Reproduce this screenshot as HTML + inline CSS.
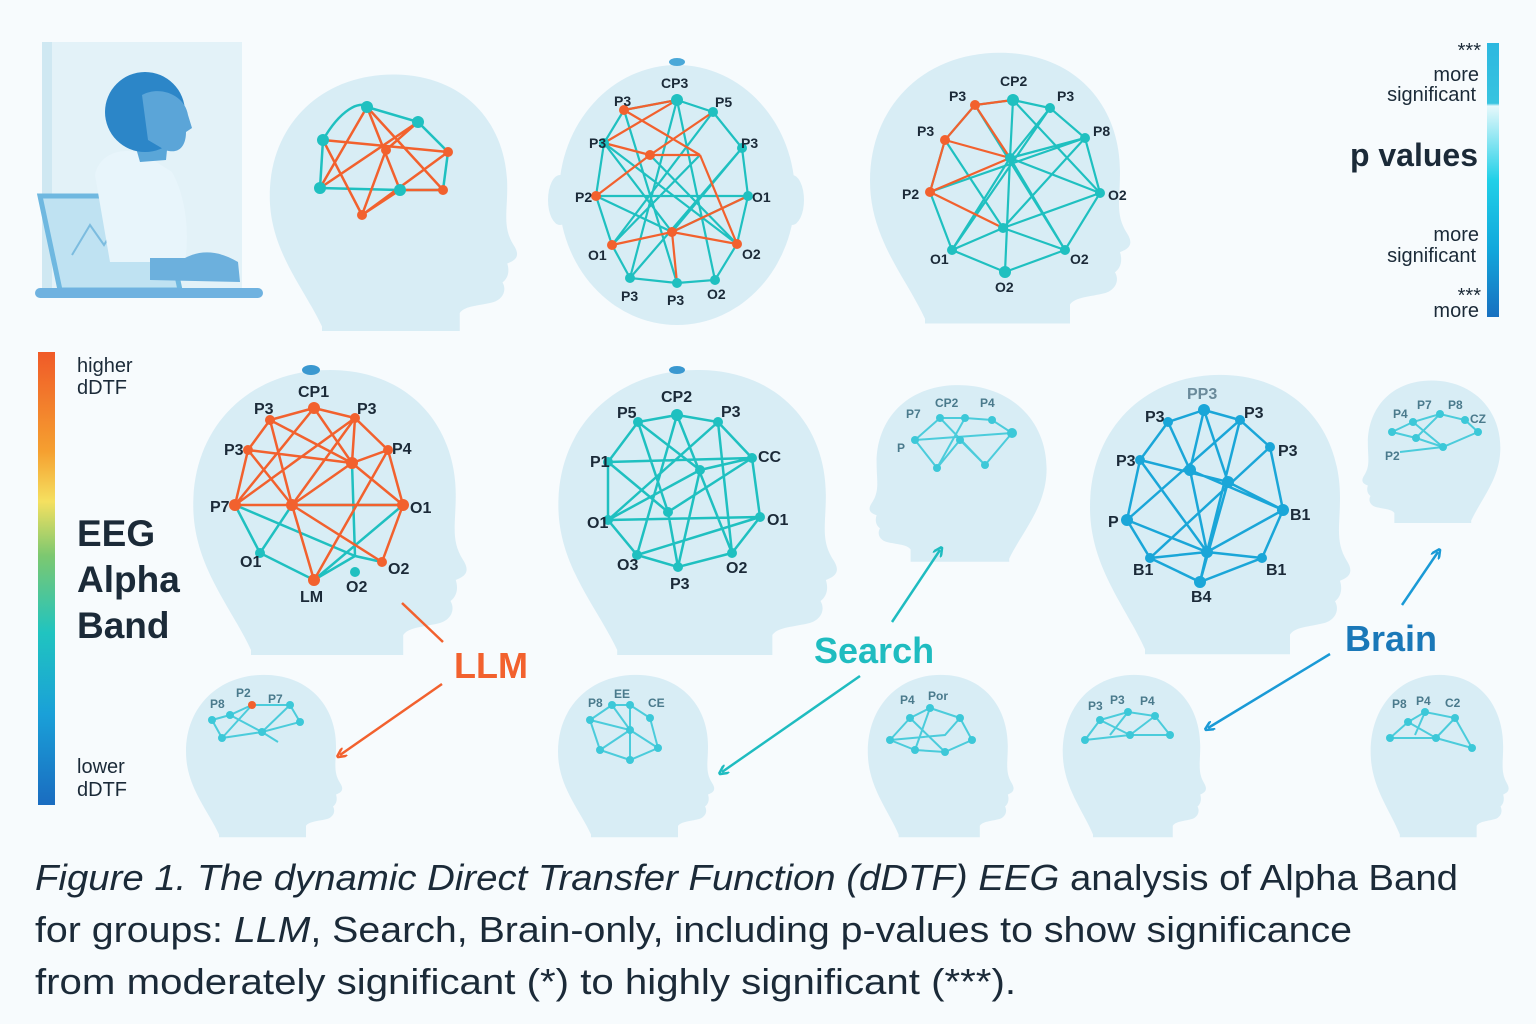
<!DOCTYPE html>
<html><head><meta charset="utf-8">
<style>
html,body{margin:0;padding:0;background:#f7fbfd;}
svg{display:block}
text{font-family:"Liberation Sans",sans-serif;}
</style></head>
<body>
<svg width="1536" height="1024" viewBox="0 0 1536 1024" xmlns="http://www.w3.org/2000/svg">
<defs>
<path id="head" d="M60,285 C40,240 5,200 5,140 C5,60 60,5 135,5 C210,5 255,60 255,130 C255,160 250,175 262,195 C270,208 262,212 255,215 C258,225 255,232 250,236 C255,245 250,255 240,258 C225,262 210,262 205,270 L205,290 L60,290 Z"/>
<linearGradient id="cb" x1="0" y1="0" x2="0" y2="1">
<stop offset="0" stop-color="#f05a28"/><stop offset="0.22" stop-color="#f5a030"/><stop offset="0.33" stop-color="#f5e060"/><stop offset="0.45" stop-color="#7cc870"/><stop offset="0.62" stop-color="#20c4c0"/><stop offset="0.8" stop-color="#1aa0d8"/><stop offset="1" stop-color="#1a6cc0"/>
</linearGradient>
<linearGradient id="pv" x1="0" y1="0" x2="0" y2="1">
<stop offset="0" stop-color="#2cb8e0"/><stop offset="0.22" stop-color="#38c4e0"/><stop offset="0.23" stop-color="#e6f8fb"/><stop offset="0.5" stop-color="#20d0e8"/><stop offset="0.75" stop-color="#12a8dc"/><stop offset="1" stop-color="#1870c0"/>
</linearGradient>
<marker id="ao" markerWidth="10" markerHeight="10" refX="6" refY="5" orient="auto" markerUnits="userSpaceOnUse"><path d="M0,0 L10,5 L0,10" fill="none" stroke="#f2612e" stroke-width="2.5"/></marker>
<marker id="at" markerWidth="10" markerHeight="10" refX="6" refY="5" orient="auto" markerUnits="userSpaceOnUse"><path d="M0,0 L10,5 L0,10" fill="none" stroke="#1fbcc0" stroke-width="2.5"/></marker>
<marker id="ab" markerWidth="10" markerHeight="10" refX="6" refY="5" orient="auto" markerUnits="userSpaceOnUse"><path d="M0,0 L10,5 L0,10" fill="none" stroke="#1a9ad6" stroke-width="2.5"/></marker>
</defs>

<!-- top-left person scene -->
<rect x="42" y="42" width="200" height="255" fill="#e3f2f8"/>
<rect x="42" y="42" width="10" height="255" fill="#cfe8f2"/>
<path d="M40,196 L160,196 L180,290 L60,290 Z" fill="#bfe2f2" stroke="#6fb8e0" stroke-width="5"/>
<polyline points="72,255 90,225 104,245 112,232 128,252" fill="none" stroke="#7cbcdf" stroke-width="2"/>
<rect x="35" y="288" width="228" height="10" rx="5" fill="#6fb2e0"/>
<path d="M95,175 C100,150 130,145 150,158 L172,172 C185,195 190,230 185,262 L110,262 Z" fill="#e8f5fb"/>
<path d="M150,258 L185,258 C200,250 218,250 238,262 L240,282 L150,280 Z" fill="#6cb0dd"/>
<path d="M128,120 L170,120 L166,160 L140,162 Z" fill="#5aa6d8"/>
<ellipse cx="145" cy="112" rx="40" ry="40" fill="#2c86c8"/>
<path d="M142,95 C160,85 185,95 188,115 L192,128 L186,132 C186,145 180,155 165,150 L148,140 Z" fill="#5ba5d8"/>

<!-- heads -->
<g fill="#d3eaf4" opacity="0.85">
<use href="#head" transform="translate(265,70) scale(0.95,0.9)"/>
<ellipse cx="677" cy="195" rx="118" ry="130"/>
<ellipse cx="560" cy="200" rx="12" ry="25"/><ellipse cx="792" cy="200" rx="12" ry="25"/>
<use href="#head" transform="translate(865,48) scale(1.0,0.95)"/>
<use href="#head" transform="translate(188,365) scale(1.05,1.0)"/>
<use href="#head" transform="translate(553,365) scale(1.07,1.0)"/>
<use href="#head" transform="translate(1050,382) scale(-0.68,0.62)"/>
<use href="#head" transform="translate(1085,370) scale(1.0,0.98)"/>
<use href="#head" transform="translate(1503,378) scale(-0.53,0.5)"/>
<use href="#head" transform="translate(183,672) scale(0.6,0.57)"/>
<use href="#head" transform="translate(555,672) scale(0.6,0.57)"/>
<use href="#head" transform="translate(865,672) scale(0.56,0.57)"/>
<use href="#head" transform="translate(1060,672) scale(0.55,0.57)"/>
<use href="#head" transform="translate(1368,672) scale(0.53,0.57)"/>
</g>
<ellipse cx="677" cy="62" rx="8" ry="4" fill="#4aa8d8"/>
<ellipse cx="311" cy="370" rx="9" ry="5" fill="#3a98d0"/>
<ellipse cx="677" cy="370" rx="8" ry="4" fill="#3a98d0"/>

<!-- network 1 top -->
<g stroke-width="2.5" fill="none">
<path d="M323,140 C340,110 360,100 367,107 L418,122 L448,152 L443,190 L400,190 L320,188 Z" stroke="#1fc0c0"/>
<g stroke="#f2612e">
<path d="M367,107 L320,188 M367,107 L400,190 M367,107 L443,190 M323,140 L448,152 M320,188 L418,122 M362,215 L386,150 L418,122 M362,215 L448,152 M323,140 L362,215 M400,190 L362,215 M443,190 L400,190"/>
</g></g>
<g fill="#1fc0c0"><circle cx="323" cy="140" r="6"/><circle cx="367" cy="107" r="6"/><circle cx="418" cy="122" r="6"/><circle cx="320" cy="188" r="6"/><circle cx="400" cy="190" r="6"/></g>
<g fill="#f2612e"><circle cx="448" cy="152" r="5"/><circle cx="443" cy="190" r="5"/><circle cx="362" cy="215" r="5"/><circle cx="386" cy="150" r="5"/></g>

<!-- network 2 top -->
<g stroke-width="2.2" fill="none" stroke="#1fc0c0">
<path d="M677,100 L713,112 L742,148 L748,196 L737,244 L715,280 L677,283 L630,278 L612,245 L596,196 L604,143 L624,110 Z"/>
<path d="M677,100 L630,278 M677,100 L715,280 M713,112 L612,245 M604,143 L737,244 M596,196 L748,196 M624,110 L677,283 M742,148 L630,278 M672,232 L604,143 M672,232 L742,148 M672,232 L596,196 M672,232 L748,196 M650,155 L737,244 M700,155 L612,245"/>
</g>
<g stroke-width="2.2" fill="none" stroke="#f2612e">
<path d="M624,110 L677,100 L604,143 M624,110 L700,155 M604,143 L650,155 L713,112 M650,155 L700,155 M596,196 L650,155 M612,245 L672,232 L737,244 M748,196 L672,232 L677,283 M700,155 L737,244"/>
</g>
<g fill="#1fc0c0"><circle cx="677" cy="100" r="6"/><circle cx="713" cy="112" r="5"/><circle cx="742" cy="148" r="5"/><circle cx="748" cy="196" r="5"/><circle cx="630" cy="278" r="5"/><circle cx="677" cy="283" r="5"/><circle cx="715" cy="280" r="5"/><circle cx="604" cy="143" r="5"/></g>
<g fill="#f2612e"><circle cx="624" cy="110" r="5"/><circle cx="596" cy="196" r="5"/><circle cx="612" cy="245" r="5"/><circle cx="737" cy="244" r="5"/><circle cx="672" cy="232" r="5"/><circle cx="650" cy="155" r="5"/></g>
<g font-size="14" font-weight="bold" fill="#1b2a38">
<text x="661" y="88">CP3</text><text x="614" y="106">P3</text><text x="715" y="107">P5</text><text x="589" y="148">P3</text><text x="741" y="148">P3</text><text x="575" y="202">P2</text><text x="752" y="202">O1</text><text x="588" y="260">O1</text><text x="742" y="259">O2</text><text x="621" y="301">P3</text><text x="667" y="305">P3</text><text x="707" y="299">O2</text>
</g>

<!-- network 3 top -->
<g stroke-width="2.2" fill="none" stroke="#1fc0c0">
<path d="M1013,100 L1050,108 L1085,138 L1100,193 L1065,250 L1005,272 L952,250 L930,192 L945,140 L975,105 Z"/>
<path d="M1010,158 L1013,100 M1010,158 L1050,108 M1010,158 L1085,138 M1010,158 L1100,193 M1010,158 L1065,250 M1010,158 L1005,272 M1010,158 L952,250 M1003,228 L1085,138 M1003,228 L945,140 M1003,228 L1100,193 M1003,228 L952,250 M1003,228 L1065,250 M1013,100 L1100,193 M1050,108 L952,250 M975,105 L1065,250 M1085,138 L930,192"/>
</g>
<g stroke-width="2.2" fill="none" stroke="#f2612e">
<path d="M975,105 L1013,100 M975,105 L945,140 L930,192 M945,140 L1010,158 L930,192 M975,105 L1010,158 M930,192 L1003,228"/>
</g>
<g fill="#1fc0c0"><circle cx="1013" cy="100" r="6"/><circle cx="1050" cy="108" r="5"/><circle cx="1085" cy="138" r="5"/><circle cx="1100" cy="193" r="5"/><circle cx="1065" cy="250" r="5"/><circle cx="1005" cy="272" r="6"/><circle cx="952" cy="250" r="5"/><circle cx="1010" cy="158" r="5"/><circle cx="1003" cy="228" r="5"/></g>
<g fill="#f2612e"><circle cx="975" cy="105" r="5"/><circle cx="945" cy="140" r="5"/><circle cx="930" cy="192" r="5"/></g>
<g font-size="14" font-weight="bold" fill="#1b2a38">
<text x="1000" y="86">CP2</text><text x="949" y="101">P3</text><text x="1057" y="101">P3</text><text x="1093" y="136">P8</text><text x="917" y="136">P3</text><text x="902" y="199">P2</text><text x="1108" y="200">O2</text><text x="930" y="264">O1</text><text x="1070" y="264">O2</text><text x="995" y="292">O2</text>
</g>

<!-- LLM middle head -->
<g stroke-width="2.5" fill="none" stroke="#1fc0c0">
<path d="M235,505 L260,553 L314,580 L355,556 L382,562 M235,505 L355,556 M292,505 L403,505 M292,505 L260,553 M403,505 L314,580 M352,463 L355,556"/>
</g>
<g stroke-width="2.5" fill="none" stroke="#f2612e">
<path d="M314,408 L355,418 L388,450 L403,505 L382,562 M314,408 L270,420 L248,450 L235,505 M270,420 L352,463 L388,450 M248,450 L352,463 M248,450 L292,505 L314,580 M235,505 L355,418 M235,505 L314,408 M270,420 L292,505 M314,408 L352,463 M355,418 L352,463 M292,505 L352,463 M292,505 L382,562 M352,463 L403,505 M314,580 L388,450 M355,418 L292,505 M235,505 L403,505 M270,420 L314,408"/>
</g>
<g fill="#f2612e"><circle cx="314" cy="408" r="6"/><circle cx="270" cy="420" r="5"/><circle cx="355" cy="418" r="5"/><circle cx="248" cy="450" r="5"/><circle cx="388" cy="450" r="5"/><circle cx="235" cy="505" r="6"/><circle cx="403" cy="505" r="6"/><circle cx="382" cy="562" r="5"/><circle cx="314" cy="580" r="6"/><circle cx="352" cy="463" r="6"/><circle cx="292" cy="505" r="6"/></g>
<g fill="#1fc0c0"><circle cx="260" cy="553" r="5"/><circle cx="355" cy="572" r="5"/></g>
<g font-size="16" font-weight="bold" fill="#1b2a38">
<text x="298" y="397">CP1</text><text x="254" y="414">P3</text><text x="357" y="414">P3</text><text x="224" y="455">P3</text><text x="392" y="454">P4</text><text x="210" y="512">P7</text><text x="410" y="513">O1</text><text x="240" y="567">O1</text><text x="388" y="574">O2</text><text x="346" y="592">O2</text><text x="300" y="602">LM</text>
</g>

<!-- Search middle head -->
<g stroke-width="2.5" fill="none" stroke="#1fc0c0">
<path d="M677,415 L718,422 L752,458 L760,517 L732,553 L678,567 L637,555 L608,520 L608,462 L638,422 Z"/>
<path d="M638,422 L700,470 L752,458 M677,415 L637,555 M677,415 L732,553 M718,422 L608,520 M608,462 L752,458 M608,520 L760,517 M668,512 L638,422 M668,512 L678,567 M668,512 L752,458 M668,512 L608,462 M700,470 L678,567 M700,470 L608,520 M718,422 L732,553 M637,555 L760,517"/>
</g>
<g fill="#1fc0c0"><circle cx="677" cy="415" r="6"/><circle cx="638" cy="422" r="5"/><circle cx="718" cy="422" r="5"/><circle cx="608" cy="462" r="5"/><circle cx="752" cy="458" r="5"/><circle cx="608" cy="520" r="5"/><circle cx="760" cy="517" r="5"/><circle cx="637" cy="555" r="5"/><circle cx="732" cy="553" r="5"/><circle cx="678" cy="567" r="5"/><circle cx="668" cy="512" r="5"/><circle cx="700" cy="470" r="5"/></g>
<g font-size="16" font-weight="bold" fill="#1b2a38">
<text x="661" y="402">CP2</text><text x="617" y="418">P5</text><text x="721" y="417">P3</text><text x="590" y="467">P1</text><text x="758" y="462">CC</text><text x="587" y="528">O1</text><text x="767" y="525">O1</text><text x="617" y="570">O3</text><text x="726" y="573">O2</text><text x="670" y="589">P3</text>
</g>

<!-- Brain middle head -->
<g stroke-width="2.5" fill="none" stroke="#1aa6d8">
<path d="M1204,410 L1240,420 L1270,447 L1283,510 L1262,558 L1200,582 L1150,558 L1127,520 L1140,460 L1168,422 Z"/>
<path d="M1168,422 L1190,470 L1207,552 M1204,410 L1228,482 L1283,510 M1240,420 L1207,552 M1240,420 L1127,520 M1140,460 L1228,482 M1140,460 L1207,552 M1270,447 L1150,558 M1190,470 L1283,510 M1127,520 L1207,552 L1262,558 M1150,558 L1207,552 L1200,582 M1190,470 L1204,410 M1228,482 L1200,582 M1207,552 L1283,510"/>
</g>
<g fill="#1aa6d8"><circle cx="1204" cy="410" r="6"/><circle cx="1168" cy="422" r="5"/><circle cx="1240" cy="420" r="5"/><circle cx="1140" cy="460" r="5"/><circle cx="1270" cy="447" r="5"/><circle cx="1127" cy="520" r="6"/><circle cx="1283" cy="510" r="6"/><circle cx="1150" cy="558" r="5"/><circle cx="1262" cy="558" r="5"/><circle cx="1200" cy="582" r="6"/><circle cx="1190" cy="470" r="6"/><circle cx="1228" cy="482" r="6"/><circle cx="1207" cy="552" r="6"/></g>
<g font-size="16" font-weight="bold" fill="#1b2a38">
<text x="1187" y="399" fill="#6a8a9a">PP3</text><text x="1145" y="422">P3</text><text x="1244" y="418">P3</text><text x="1116" y="466">P3</text><text x="1278" y="456">P3</text><text x="1108" y="527">P</text><text x="1290" y="520">B1</text><text x="1133" y="575">B1</text><text x="1266" y="575">B1</text><text x="1191" y="602">B4</text>
</g>

<!-- small networks -->
<g stroke-width="2" fill="none" stroke="#3cc8d8" opacity="0.9">
<path d="M915,440 L940,418 L965,418 L992,420 L1012,433 L985,465 L960,440 L937,468 L915,440 M940,418 L985,465 M965,418 L937,468 M915,440 L1012,433"/>
<path d="M1392,432 L1413,422 L1440,414 L1465,420 L1478,432 L1443,447 L1416,438 L1392,432 M1413,422 L1443,447 M1440,414 L1416,438 M1400,452 L1443,447 L1478,432"/>
<path d="M212,720 L222,738 L262,732 L300,722 L290,705 L252,705 L230,715 L212,720 M230,715 L262,732 L290,705 M222,738 L252,705 M262,732 L278,742"/>
<path d="M590,720 L612,705 L630,705 L650,718 L658,748 L630,760 L600,750 L590,720 M612,705 L630,730 L658,748 M630,705 L630,760 M590,720 L630,730 L600,750"/>
<path d="M890,740 L910,718 L930,708 L960,718 L972,740 L945,752 L915,750 L890,740 M910,718 L945,752 M930,708 L915,750 M930,708 L960,718 L945,735 L890,740"/>
<path d="M1085,740 L1100,720 L1128,712 L1155,716 L1170,735 L1130,735 L1085,740 M1100,720 L1130,735 L1155,716 M1128,712 L1110,735"/>
<path d="M1390,738 L1408,722 L1425,712 L1455,718 L1472,748 L1436,738 L1390,738 M1408,722 L1436,738 L1455,718 M1425,712 L1415,735"/>
</g>
<g fill="#3cc8d8">
<circle cx="940" cy="418" r="4"/><circle cx="965" cy="418" r="4"/><circle cx="992" cy="420" r="4"/><circle cx="1012" cy="433" r="5"/><circle cx="985" cy="465" r="4"/><circle cx="960" cy="440" r="4"/><circle cx="937" cy="468" r="4"/><circle cx="915" cy="440" r="4"/>
<circle cx="1413" cy="422" r="4"/><circle cx="1440" cy="414" r="4"/><circle cx="1465" cy="420" r="4"/><circle cx="1478" cy="432" r="4"/><circle cx="1443" cy="447" r="4"/><circle cx="1416" cy="438" r="4"/><circle cx="1392" cy="432" r="4"/>
<circle cx="222" cy="738" r="4"/><circle cx="262" cy="732" r="4"/><circle cx="300" cy="722" r="4"/><circle cx="290" cy="705" r="4"/><circle cx="230" cy="715" r="4"/><circle cx="212" cy="720" r="4"/>
<circle cx="590" cy="720" r="4"/><circle cx="612" cy="705" r="4"/><circle cx="630" cy="705" r="4"/><circle cx="650" cy="718" r="4"/><circle cx="658" cy="748" r="4"/><circle cx="630" cy="760" r="4"/><circle cx="600" cy="750" r="4"/><circle cx="630" cy="730" r="4"/>
<circle cx="890" cy="740" r="4"/><circle cx="910" cy="718" r="4"/><circle cx="930" cy="708" r="4"/><circle cx="960" cy="718" r="4"/><circle cx="972" cy="740" r="4"/><circle cx="945" cy="752" r="4"/><circle cx="915" cy="750" r="4"/>
<circle cx="1085" cy="740" r="4"/><circle cx="1100" cy="720" r="4"/><circle cx="1128" cy="712" r="4"/><circle cx="1155" cy="716" r="4"/><circle cx="1170" cy="735" r="4"/><circle cx="1130" cy="735" r="4"/>
<circle cx="1390" cy="738" r="4"/><circle cx="1408" cy="722" r="4"/><circle cx="1425" cy="712" r="4"/><circle cx="1455" cy="718" r="4"/><circle cx="1472" cy="748" r="4"/><circle cx="1436" cy="738" r="4"/>
</g>
<circle cx="252" cy="705" r="4" fill="#f2612e"/>
<g font-size="12" font-weight="bold" fill="#4a7a8c">
<text x="906" y="418">P7</text><text x="935" y="407">CP2</text><text x="980" y="407">P4</text><text x="897" y="452">P</text>
<text x="1393" y="418">P4</text><text x="1417" y="409">P7</text><text x="1448" y="409">P8</text><text x="1470" y="423">CZ</text><text x="1385" y="460">P2</text>
<text x="210" y="708">P8</text><text x="236" y="697">P2</text><text x="268" y="703">P7</text>
<text x="588" y="707">P8</text><text x="614" y="698">EE</text><text x="648" y="707">CE</text>
<text x="900" y="704">P4</text><text x="928" y="700">Por</text>
<text x="1088" y="710">P3</text><text x="1110" y="704">P3</text><text x="1140" y="705">P4</text>
<text x="1392" y="708">P8</text><text x="1416" y="705">P4</text><text x="1445" y="707">C2</text>
</g>

<!-- arrows & labels -->
<g stroke-width="2.5" fill="none">
<path d="M402,603 L443,642" stroke="#f2612e"/>
<path d="M442,684 L340,755" stroke="#f2612e" marker-end="url(#ao)"/>
<path d="M892,622 L940,550" stroke="#1fbcc0" marker-end="url(#at)"/>
<path d="M860,676 L722,772" stroke="#1fbcc0" marker-end="url(#at)"/>
<path d="M1402,605 L1438,552" stroke="#1a9ad6" marker-end="url(#ab)"/>
<path d="M1330,654 L1208,728" stroke="#1a9ad6" marker-end="url(#ab)"/>
</g>
<text x="454" y="678" font-size="36" font-weight="bold" fill="#f2612e">LLM</text>
<text x="814" y="663" font-size="36" font-weight="bold" fill="#1fbcc0">Search</text>
<text x="1345" y="651" font-size="36" font-weight="bold" fill="#1a78b8">Brain</text>

<!-- left colorbar -->
<rect x="38" y="352" width="17" height="453" fill="url(#cb)"/>
<g font-size="20" fill="#1b2a38">
<text x="77" y="372">higher</text><text x="77" y="394">dDTF</text>
<text x="77" y="773">lower</text><text x="77" y="796">dDTF</text>
</g>
<g font-size="37" font-weight="bold" fill="#1b2a38">
<text x="77" y="546">EEG</text><text x="77" y="592">Alpha</text><text x="77" y="638">Band</text>
</g>

<!-- p-values -->
<rect x="1487" y="43" width="12" height="274" fill="url(#pv)"/>
<g font-size="20" fill="#1b2a38" text-anchor="end">
<text x="1481" y="57" font-size="20">***</text>
<text x="1479" y="81">more</text><text x="1476" y="101">significant</text>
<text x="1479" y="241">more</text><text x="1476" y="262">significant</text>
<text x="1481" y="302" font-size="20">***</text>
<text x="1479" y="317">more</text>
<text x="1478" y="166" font-size="32" font-weight="bold">p values</text>
</g>

<!-- caption -->
<g font-size="36" fill="#1b2a38">
<text x="35" y="890" textLength="1423" lengthAdjust="spacingAndGlyphs"><tspan font-style="italic">Figure 1. The dynamic Direct Transfer Function (dDTF) EEG</tspan> analysis of Alpha Band</text>
<text x="35" y="942" textLength="1317" lengthAdjust="spacingAndGlyphs">for groups: <tspan font-style="italic">LLM</tspan>, Search, Brain-only, including p-values to show significance</text>
<text x="35" y="994" textLength="981" lengthAdjust="spacingAndGlyphs">from moderately significant (*) to highly significant (***).</text>
</g>
</svg>
</body></html>
